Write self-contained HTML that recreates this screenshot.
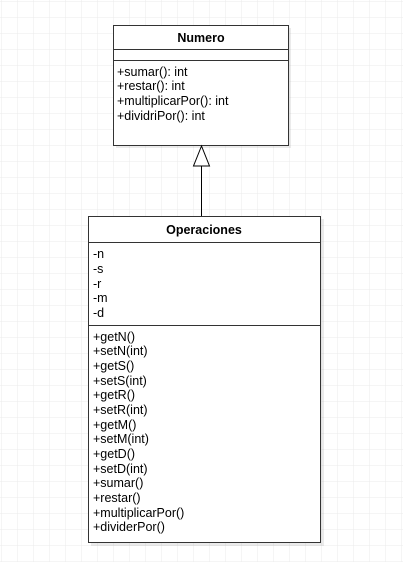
<!DOCTYPE html>
<html><head><meta charset="utf-8"><style>
html,body{margin:0;padding:0;width:403px;height:562px;overflow:hidden;background:#fff}
svg{display:block}
text{font-family:"Liberation Sans",Arial,sans-serif;font-size:12.5px;fill:#000}
</style></head><body>
<svg width="403" height="562" viewBox="0 0 403 562" xmlns="http://www.w3.org/2000/svg">
<defs>
<pattern id="g" width="16" height="16" patternUnits="userSpaceOnUse" x="1" y="1">
<path d="M0 0H16M0 0V16" stroke="#ebebeb" stroke-width="1" fill="none"/>
</pattern>
</defs>
<rect width="403" height="562" fill="url(#g)"/>
<rect x="116" y="28" width="175" height="120" fill="#000" opacity="0.08"/>
<rect x="91" y="219" width="233" height="327" fill="#000" opacity="0.08"/>
<rect x="113.5" y="25.5" width="175" height="120" fill="#fff" stroke="#333"/>
<line x1="113.5" y1="49.5" x2="288.5" y2="49.5" stroke="#333"/>
<line x1="113.5" y1="60.5" x2="288.5" y2="60.5" stroke="#333"/>
<text x="201" y="42" text-anchor="middle" font-weight="bold">Numero</text>
<text x="117" y="76">+sumar(): int</text>
<text x="117" y="90">+restar(): int</text>
<text x="117" y="105">+multiplicarPor(): int</text>
<text x="117" y="120">+dividriPor(): int</text>
<line x1="201.5" y1="166" x2="201.5" y2="216" stroke="#000"/>
<polygon points="201.5,146 193.5,166 209.5,166" fill="#fff" stroke="#000"/>
<rect x="88.5" y="216.5" width="232" height="326" fill="#fff" stroke="#333"/>
<line x1="88.5" y1="242.5" x2="320.5" y2="242.5" stroke="#333"/>
<line x1="88.5" y1="325.5" x2="320.5" y2="325.5" stroke="#333"/>
<text x="204" y="234" text-anchor="middle" font-weight="bold">Operaciones</text>
<g>
<text x="93" y="258">-n</text>
<text x="93" y="273">-s</text>
<text x="93" y="288">-r</text>
<text x="93" y="302">-m</text>
<text x="93" y="317">-d</text>
</g>
<g>
<text x="93" y="341">+getN()</text>
<text x="93" y="355">+setN(int)</text>
<text x="93" y="370">+getS()</text>
<text x="93" y="385">+setS(int)</text>
<text x="93" y="399">+getR()</text>
<text x="93" y="414">+setR(int)</text>
<text x="93" y="429">+getM()</text>
<text x="93" y="443">+setM(int)</text>
<text x="93" y="458">+getD()</text>
<text x="93" y="473">+setD(int)</text>
<text x="93" y="487">+sumar()</text>
<text x="93" y="502">+restar()</text>
<text x="93" y="517">+multiplicarPor()</text>
<text x="93" y="531">+dividerPor()</text>
</g>
</svg>
</body></html>
